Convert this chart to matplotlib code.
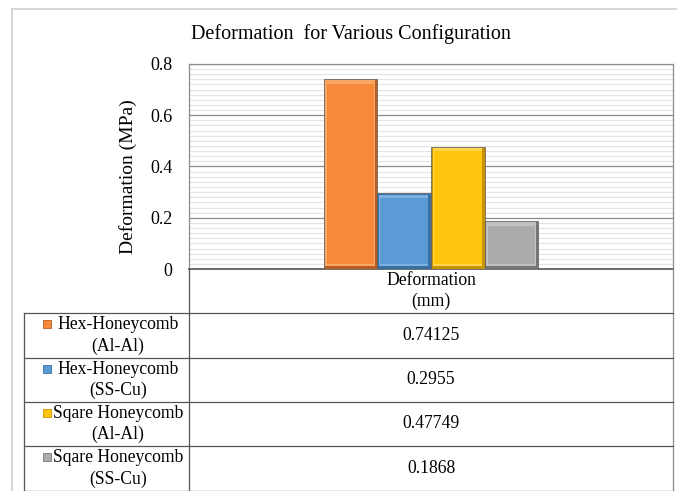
import matplotlib
matplotlib.use('Agg')
import matplotlib.pyplot as plt
from matplotlib.lines import Line2D
from matplotlib.patches import Rectangle
import numpy as np

# Chart data
category = "Deformation\n(mm)"
series_names = ["Hex-Honeycomb\n(Al-Al)", "Hex-Honeycomb\n(SS-Cu)",
                "Sqare Honeycomb\n(Al-Al)", "Sqare Honeycomb\n(SS-Cu)"]
values = [0.74125, 0.2955, 0.47749, 0.1868]
value_labels = ["0.74125", "0.2955", "0.47749", "0.1868"]
yticks = [0, 0.2, 0.4, 0.6, 0.8]
ytick_labels = ["0", "0.2", "0.4", "0.6", "0.8"]

colors = ["#F68A3A", "#5B9BD5", "#FFC50E", "#ABABAB"]
shade = ["#B85E24", "#3A6FA3", "#C79400", "#767676"]
light = ["#F9A564", "#7DB1E0", "#FFD54D", "#C2C2C2"]

W, H = 677, 491
plt.rcParams['font.family'] = ['Liberation Serif', 'DejaVu Serif']

fig = plt.figure(figsize=(W / 100, H / 100), dpi=100)


def fx(px):
    return px / W


def fy(py):
    return 1 - py / H


# plot area in pixels
left, right, top, bottom = 189, 673, 64, 269
ax = fig.add_axes([fx(left), fy(bottom), fx(right) - fx(left), fy(top) - fy(bottom)])

ax.set_xlim(-0.5, 0.5)
ax.set_ylim(0, 0.8)

# gridlines
ax.set_yticks(yticks)
ax.set_yticks(np.arange(0, 0.8, 0.02), minor=True)
ax.yaxis.grid(True, which='minor', color='#E4E4E4', linewidth=0.8)
ax.yaxis.grid(True, which='major', color='#8C8C8C', linewidth=0.9)
ax.set_axisbelow(True)
ax.set_yticklabels(ytick_labels, fontsize=13)
ax.tick_params(axis='y', which='both', length=0, pad=12)
ax.set_xticks([])
for side in ['top', 'right', 'left']:
    ax.spines[side].set_color('#8C8C8C')
    ax.spines[side].set_linewidth(0.9)
ax.spines['bottom'].set_color('#555555')
ax.spines['bottom'].set_linewidth(1.2)

# bars with a simple bevel look
w = 0.111
n = len(values)
offsets = (np.arange(n) - (n - 1) / 2) * w
for xo, v, c, s, lt in zip(offsets, values, colors, shade, light):
    ax.bar(xo, v, width=w, color=s, edgecolor='#5A5A5A', linewidth=0.5, zorder=3)
    ins_x = w * 0.06
    ins_y = 0.012
    # lighter top rim, darker sides and bottom
    ax.add_patch(Rectangle((xo - w / 2 + ins_x * 0.5, ins_y), w - ins_x * 1.3, v - ins_y * 1.4,
                           facecolor=lt, edgecolor='none', zorder=4))
    ax.add_patch(Rectangle((xo - w / 2 + ins_x, ins_y * 1.5), w - 2 * ins_x, v - 3 * ins_y,
                           facecolor=c, edgecolor='none', zorder=5))

ax.set_ylabel("Deformation (MPa)", fontsize=14)
ax.yaxis.set_label_coords(-0.108, 0.45)

fig.text(fx(351), fy(34), "Deformation  for Various Configuration",
         fontsize=14.5, ha='center', va='center')

# outer chart border
fig.add_artist(Line2D([fx(12), fx(677)], [fy(9), fy(9)], color='#D0D0D0', lw=1.2))
fig.add_artist(Line2D([fx(12), fx(12)], [fy(9), fy(491)], color='#D0D0D0', lw=1.2))

# data table
tbl_left = 24
rows = [313, 358, 402, 446, 491]
line_c = '#555555'
fig.add_artist(Line2D([fx(left), fx(left)], [fy(bottom), fy(491)], color=line_c, lw=0.9))
fig.add_artist(Line2D([fx(right), fx(right)], [fy(bottom), fy(491)], color='#8C8C8C', lw=0.9))
fig.add_artist(Line2D([fx(tbl_left), fx(tbl_left)], [fy(rows[0]), fy(491)], color=line_c, lw=0.9))
for r in rows:
    fig.add_artist(Line2D([fx(tbl_left), fx(right)], [fy(r), fy(r)], color=line_c, lw=0.9))

mid_x = (left + right) / 2
fig.text(fx(mid_x), fy((bottom + rows[0]) / 2), category, fontsize=12.7,
         ha='center', va='center', multialignment='center', linespacing=1.3)

for i in range(n):
    y0, y1 = rows[i], rows[i + 1]
    yc = (y0 + y1) / 2
    fig.text(fx(mid_x), fy(yc), value_labels[i], fontsize=12.7, ha='center', va='center')
    fig.text(fx(118), fy(yc), series_names[i], fontsize=12.7, ha='center', va='center',
             multialignment='center', linespacing=1.35)
    fig.add_artist(Rectangle((fx(43), fy(y0 + 15)), fx(8), fy(0) - fy(8),
                             facecolor=colors[i], edgecolor=shade[i], lw=0.6,
                             transform=fig.transFigure))

fig.savefig('out.png', dpi=100)
